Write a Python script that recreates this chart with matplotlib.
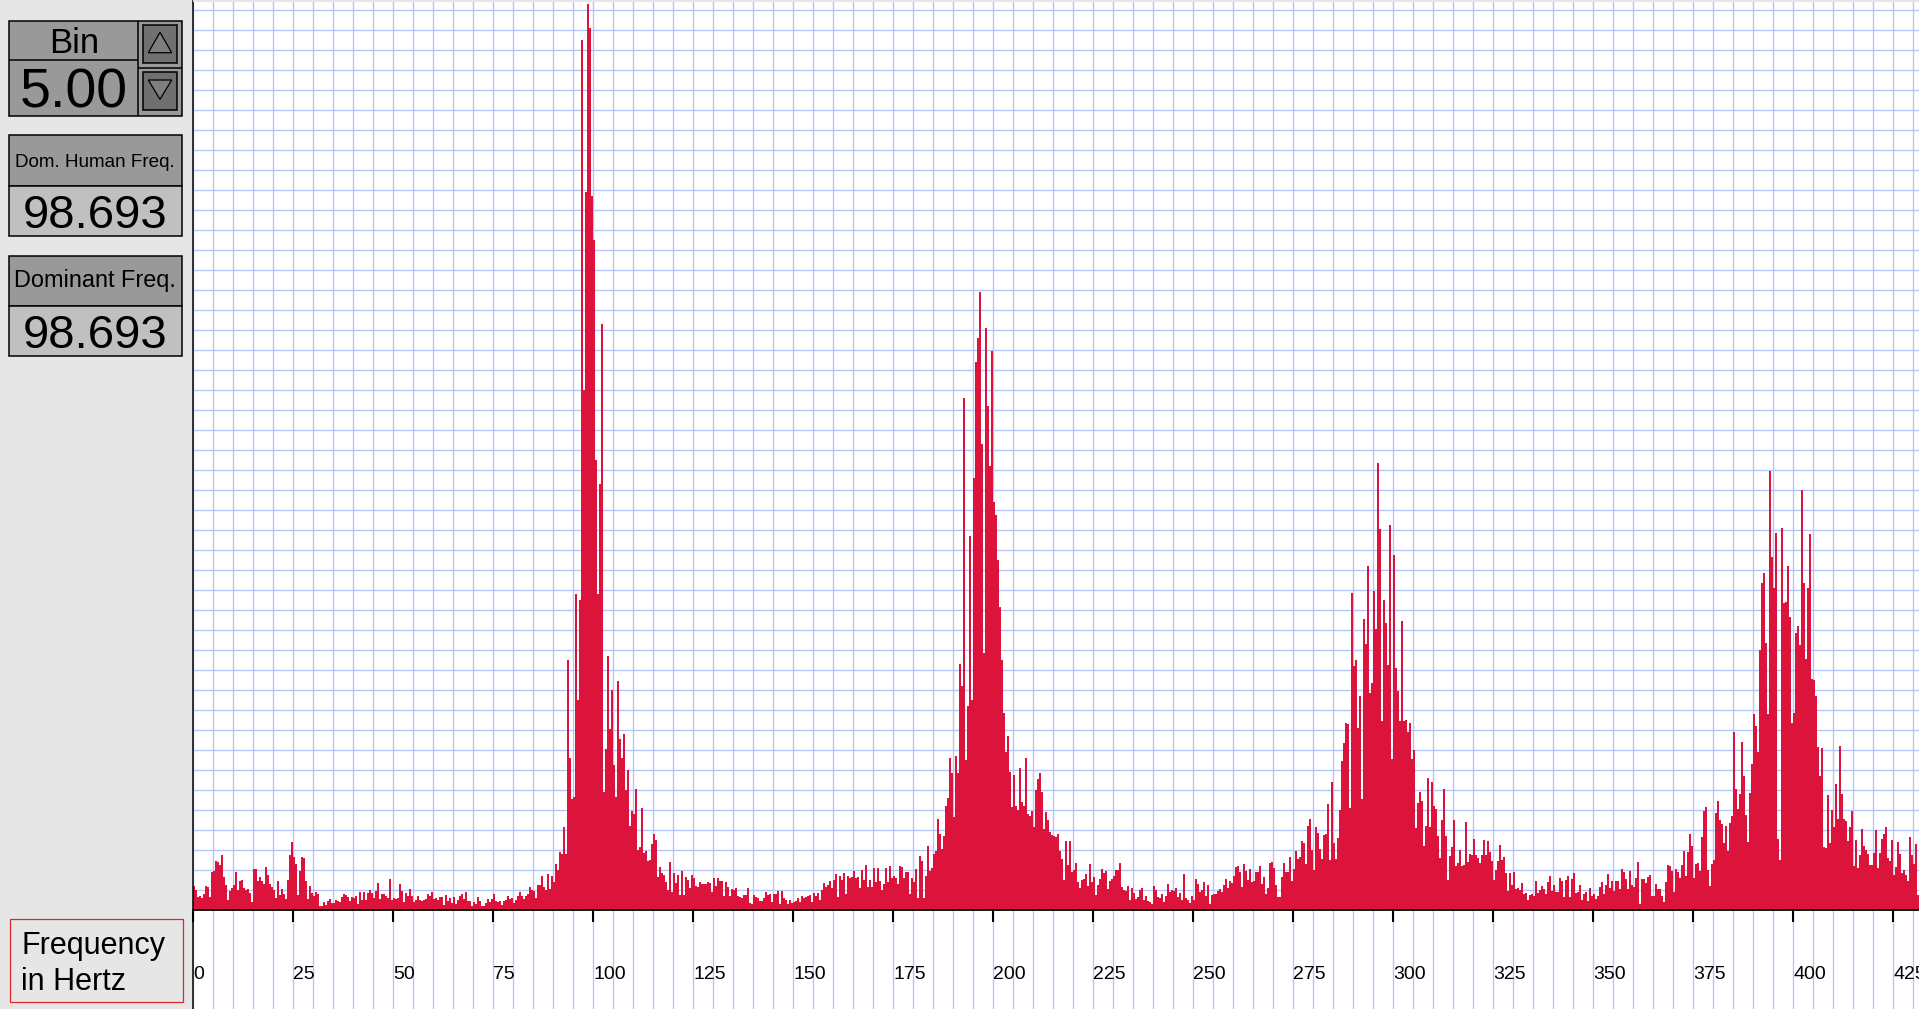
import numpy as np
import matplotlib
matplotlib.use("Agg")
import matplotlib.pyplot as plt
from matplotlib.patches import Rectangle, Polygon

plt.rcParams['font.family'] = ['Liberation Sans', 'DejaVu Sans']

# ---------------- data (amplitude in grid cells, 0.5 Hz bins) ----------------
BIN_HZ = 0.5
FREQ_MAX = 431.5
band_starts = [0, 50, 87, 125, 170, 225, 265, 320, 365]

amp_000_050 = [1.2, 1.0, 0.67, 0.7, 0.6, 0.8, 1.2, 1.15, 0.67, 1.9,
               1.95, 2.45, 2.4, 2.25, 2.75, 1.65, 1.25, 0.5, 0.95, 1.1,
               1.25, 1.9, 1.0, 1.45, 1.5, 1.1, 1.0, 1.05, 0.85, 0.4,
               2.05, 2.05, 1.45, 1.65, 1.45, 1.3, 2.15, 1.75, 1.3, 1.15,
               1.0, 0.6, 1.45, 0.75, 1.05, 0.8, 0.55, 1.5, 2.75, 3.4,
               2.65, 2.3, 0.75, 1.95, 2.65, 2.6, 1.45, 0.55, 1.2, 0.85,
               0.7, 0.9, 0.8, 0.2, 0.2, 0.4, 0.25, 0.45, 0.55, 0.35,
               0.35, 0.5, 0.45, 0.4, 0.65, 0.8, 0.75, 0.65, 0.45, 0.65,
               0.6, 0.7, 0.3, 0.9, 0.5, 0.9, 0.5, 0.85, 1.0, 0.85,
               0.6, 0.95, 1.35, 0.55, 0.8, 0.8, 0.7, 0.6, 1.55, 0.5]

amp_050_087 = [0.6, 0.55, 0.6, 1.3, 0.95, 0.4, 0.85, 0.7, 1.05, 0.7,
               0.4, 0.5, 0.7, 0.5, 0.45, 0.5, 0.55, 0.8, 0.7, 0.9,
               0.55, 0.6, 0.5, 0.65, 0.65, 0.25, 0.75, 0.45, 0.6, 0.35,
               0.65, 0.3, 0.5, 0.7, 0.8, 0.55, 0.9, 0.45, 0.45, 0.2,
               0.4, 0.3, 0.65, 0.45, 0.2, 0.2, 0.35, 0.55, 0.4, 0.55,
               0.8, 0.45, 0.4, 0.45, 0.25, 0.45, 0.5, 0.7, 0.55, 0.6,
               0.35, 0.5, 0.7, 0.9, 0.7, 0.55, 0.7, 0.8, 1.15, 1.0,
               0.95, 0.6, 1.25, 1.25]

amp_087_125 = [1.7, 1.15, 1.0, 1.8, 1.05, 1.7, 1.4, 2.3, 2.0, 2.9,
               2.8, 4.15, 2.8, 12.5, 7.6, 5.55, 5.65, 15.8, 10.5, 15.5,
               43.5, 26.0, 35.9, 45.3, 44.1, 35.7, 33.5, 22.5, 15.8, 21.3,
               29.3, 5.9, 8.05, 12.7, 9.05, 11.0, 7.25, 5.65, 11.45, 8.55,
               7.6, 8.8, 6.0, 7.0, 4.2, 4.95, 4.8, 6.05, 3.0, 3.15,
               5.1, 2.85, 2.95, 2.45, 2.5, 3.3, 3.8, 3.5, 1.65, 2.15,
               1.85, 1.75, 1.4, 1.0, 2.4, 0.9, 1.85, 1.35, 1.75, 0.75,
               1.95, 0.75, 1.65, 1.5, 1.1, 1.75]

amp_125_170 = [1.6, 1.2, 1.15, 1.4, 1.3, 1.3, 1.3, 1.4, 1.35, 0.9,
               1.6, 1.2, 1.6, 1.45, 1.45, 0.7, 1.4, 1.15, 0.7, 1.05,
               1.0, 1.1, 0.7, 0.65, 0.6, 0.75, 0.75, 1.1, 0.35, 0.3,
               0.75, 0.65, 0.6, 0.45, 0.45, 0.6, 0.9, 0.75, 0.8, 0.4,
               0.8, 0.8, 0.95, 0.3, 0.95, 0.6, 0.5, 0.3, 0.5, 0.35,
               0.4, 0.45, 0.6, 0.4, 0.7, 0.6, 0.65, 0.7, 0.75, 0.4,
               0.85, 0.7, 0.85, 0.5, 1.0, 1.35, 1.15, 1.25, 1.45, 1.1,
               1.5, 1.8, 0.65, 1.7, 1.5, 1.85, 0.8, 1.7, 1.6, 1.65,
               1.95, 1.6, 1.65, 1.1, 2.0, 1.5, 2.25, 1.15, 1.5, 1.15]

amp_170_225 = [2.1, 1.4, 2.1, 1.45, 1.0, 1.3, 2.1, 1.4, 2.2, 1.6,
               1.7, 1.6, 1.3, 2.2, 2.15, 1.6, 1.9, 1.9, 0.8, 1.6,
               1.4, 2.05, 0.6, 2.7, 2.45, 0.6, 1.7, 3.2, 1.95, 2.1,
               2.8, 2.95, 4.55, 3.8, 3.05, 3.7, 5.2, 5.6, 7.6, 6.85,
               4.65, 7.7, 6.85, 12.3, 11.2, 25.6, 7.5, 10.2, 18.7, 10.5,
               21.6, 27.4, 28.6, 30.9, 23.3, 12.85, 29.1, 25.2, 22.2, 27.95,
               20.4, 19.75, 17.5, 15.15, 12.5, 9.85, 7.9, 8.7, 6.9, 5.15,
               6.75, 5.2, 5.0, 7.1, 5.4, 5.2, 7.6, 4.8, 4.7, 4.95,
               4.15, 6.0, 6.55, 6.85, 5.9, 4.05, 4.9, 4.5, 3.9, 3.75,
               3.7, 3.65, 3.8, 2.95, 2.55, 1.5, 3.45, 2.25, 3.45, 1.9,
               2.0, 2.35, 1.4, 1.1, 1.5, 1.55, 1.8, 1.2, 2.3, 1.4]

amp_225_265 = [1.65, 0.75, 1.25, 1.55, 2.05, 1.85, 1.95, 1.05, 1.45, 1.55,
               1.7, 2.0, 2.0, 2.35, 1.15, 1.0, 0.95, 1.2, 0.5, 1.1,
               0.85, 0.55, 0.65, 1.0, 1.1, 0.5, 0.7, 0.45, 0.4, 0.3,
               1.2, 1.0, 0.65, 0.6, 0.8, 0.4, 0.7, 1.3, 0.9, 1.0,
               0.95, 1.1, 0.65, 0.85, 0.5, 1.8, 0.6, 0.5, 0.35, 0.7,
               0.5, 1.55, 1.3, 0.9, 1.0, 1.4, 0.7, 1.25, 0.3, 0.75,
               0.8, 0.8, 0.95, 1.05, 0.9, 1.25, 1.55, 1.1, 1.45, 1.35,
               1.7, 2.15, 2.2, 1.9, 1.15, 2.3, 1.95, 1.5, 2.05, 1.4]

amp_265_320 = [1.45, 1.9, 1.9, 2.2, 1.3, 1.65, 0.8, 1.1, 2.35, 2.4,
               2.1, 1.25, 0.65, 0.65, 1.65, 2.35, 1.9, 1.9, 2.65, 1.45,
               2.05, 2.95, 2.55, 2.65, 3.45, 3.35, 2.3, 4.2, 4.55, 3.0,
               2.0, 4.15, 3.85, 3.05, 2.55, 3.75, 3.8, 5.3, 2.5, 6.4,
               3.35, 2.55, 3.6, 5.0, 7.45, 8.35, 9.35, 9.3, 5.1, 15.85,
               12.2, 12.5, 9.1, 10.7, 5.55, 14.55, 13.3, 17.2, 10.85, 11.35,
               15.95, 14.05, 22.35, 19.05, 9.45, 15.5, 14.35, 12.25, 19.25, 7.55,
               17.75, 12.1, 10.95, 9.45, 14.45, 9.45, 9.5, 8.9, 9.35, 7.55,
               8.0, 4.1, 5.35, 5.9, 5.45, 3.2, 4.2, 6.6, 4.15, 6.4,
               5.2, 5.05, 3.7, 2.6, 4.5, 6.05, 3.7, 1.5, 2.7, 3.15,
               4.5, 2.2, 2.35, 3.0, 2.2, 2.25, 4.4, 2.4, 2.8, 2.75]

amp_320_365 = [3.55, 2.75, 2.6, 2.35, 2.75, 3.5, 2.75, 3.45, 2.9, 2.45,
               1.5, 2.0, 2.45, 3.25, 2.5, 2.65, 1.85, 0.95, 1.85, 1.25,
               1.9, 1.05, 1.1, 1.0, 1.35, 0.8, 0.85, 0.5, 0.75, 0.8,
               0.7, 1.45, 0.85, 1.0, 1.2, 1.05, 0.8, 1.4, 1.7, 0.95,
               1.25, 0.9, 0.9, 1.6, 1.45, 0.65, 1.5, 1.7, 0.65, 1.55,
               1.85, 0.85, 0.9, 1.25, 0.5, 0.8, 0.9, 0.45, 1.1, 0.7,
               0.8, 0.55, 0.7, 1.15, 1.4, 0.8, 1.25, 1.8, 1.1, 1.45,
               0.95, 1.45, 1.45, 1.05, 2.05, 1.9, 1.55, 1.05, 1.95, 1.25,
               1.15, 1.6, 2.4, 0.3, 1.55, 1.55, 1.35, 1.65, 1.75, 0.7]

amp_365_432 = [0.7, 1.3, 1.05, 1.05, 0.7, 0.4, 1.4, 2.25, 2.2, 1.95,
               0.9, 2.05, 1.9, 1.6, 2.25, 2.95, 1.7, 2.9, 3.8, 3.2,
               1.6, 2.3, 2.35, 1.95, 3.65, 4.95, 5.15, 2.0, 1.2, 2.3,
               2.5, 4.85, 5.45, 4.5, 4.3, 3.35, 4.2, 2.95, 4.35, 4.7,
               8.9, 6.05, 5.05, 5.8, 8.4, 6.7, 4.75, 3.4, 5.85, 7.3,
               9.8, 9.2, 7.9, 13.0, 16.35, 16.85, 13.35, 9.8, 21.95, 17.65,
               16.1, 18.85, 3.55, 2.5, 19.1, 15.35, 15.4, 17.2, 14.65, 9.35,
               9.85, 13.85, 14.2, 13.25, 21.0, 16.35, 12.55, 16.1, 18.8, 11.55,
               11.5, 10.7, 8.15, 6.7, 8.1, 3.15, 3.1, 5.75, 3.35, 5.0,
               4.15, 6.3, 4.55, 8.2, 5.8, 4.55, 4.45, 3.45, 4.15, 4.95,
               2.2, 3.5, 2.1, 2.75, 4.05, 3.2, 3.0, 2.8, 2.25, 2.25,
               2.85, 4.0, 2.1, 2.85, 3.55, 3.8, 4.15, 2.6, 2.45, 3.5,
               1.75, 2.15, 3.4, 2.8, 1.85, 2.0, 1.75, 1.45, 3.65, 2.75,
               2.3, 3.3, 0.75]

bands = [amp_000_050, amp_050_087, amp_087_125, amp_125_170, amp_170_225,
         amp_225_265, amp_265_320, amp_320_365, amp_365_432]

tick_hz = list(range(0, 426, 25))
tick_labels = [str(t) for t in tick_hz]

bin_value = "5.00"
dom_human_freq = "98.693"
dominant_freq = "98.693"

# ---------------- style ----------------
BAR = '#dc143c'
GRID = '#b3c5f7'
PANEL = '#e6e6e6'
W, H = 1919, 1009
X0 = 193       # left edge of chart area (px)
BASE = 910     # baseline from top (px)

fig = plt.figure(figsize=(W / 100, H / 100), dpi=100)
fig.patch.set_facecolor(PANEL)

# lower strip under the baseline (grid continues, labels live here)
ax_strip = fig.add_axes([X0 / W, 0, (W - X0) / W, (H - BASE) / H])
ax_strip.set_facecolor('white')
ax_strip.set_xlim(0, FREQ_MAX)
ax_strip.set_ylim(0, 1)
ax_strip.set_xticks(np.arange(0, FREQ_MAX, 5))
ax_strip.set_yticks([])
ax_strip.grid(axis='x', color=GRID, lw=0.95)
ax_strip.tick_params(length=0, labelbottom=False)
for s in ['top', 'right', 'bottom']:
    ax_strip.spines[s].set_visible(False)
ax_strip.spines['left'].set_color('black')
ax_strip.spines['left'].set_linewidth(1.1)

# main chart
ax = fig.add_axes([X0 / W, (H - BASE) / H, (W - X0) / W, BASE / H])
ax.set_zorder(3)
ax.set_facecolor('white')
freqs = np.concatenate([s + BIN_HZ * np.arange(len(b)) for s, b in zip(band_starts, bands)])
amps = np.concatenate([np.asarray(b, float) for b in bands])
ax.bar(freqs, amps, width=BIN_HZ, align='edge', color=BAR, linewidth=0,
       antialiased=False)
ax.set_xlim(0, FREQ_MAX)
ax.set_ylim(0, 45.5)
ax.set_axisbelow(True)
ax.xaxis.remove_overlapping_locs = False
ax.set_xticks(tick_hz)
ax.set_xticklabels(tick_labels)
ax.set_xticks(np.arange(0, FREQ_MAX, 5), minor=True)
ax.set_yticks([])
ax.set_yticks(np.arange(1, 46), minor=True)
ax.grid(which='minor', color=GRID, lw=0.95)
ax.tick_params(which='minor', length=0)
ax.tick_params(axis='x', which='major', direction='out', length=8.6, width=1.5,
               pad=31.5, labelsize=14, colors='black')
for lbl in ax.get_xticklabels():
    lbl.set_ha('left')
for s in ['top', 'right']:
    ax.spines[s].set_visible(False)
ax.spines['left'].set_linewidth(1.1)
ax.spines['bottom'].set_linewidth(1.3)

# thin gray strip at the very top
fig.add_artist(Rectangle((X0 / W, 1 - 2 / H), (W - X0) / W, 2 / H,
                         transform=fig.transFigure, facecolor=PANEL,
                         edgecolor='none', zorder=10))

# ---------------- left control panel ----------------
axp = fig.add_axes([0, 0, X0 / W, 1])
axp.set_xlim(0, X0)
axp.set_ylim(H, 0)
axp.axis('off')


def box(x0, y0, x1, y1, fc, ec='black', lw=1.1):
    axp.add_patch(Rectangle((x0, y0), x1 - x0, y1 - y0, facecolor=fc,
                            edgecolor=ec, lw=lw))


def hline(y, x0, x1):
    axp.plot([x0, x1], [y, y], color='black', lw=1.1, solid_capstyle='butt')


def vline(x, y0, y1):
    axp.plot([x, x], [y0, y1], color='black', lw=1.1, solid_capstyle='butt')


# Bin box
box(9.3, 20.7, 181.7, 116.3, '#999999')
hline(60, 9.3, 138.3)
vline(138.3, 20.7, 116.3)
hline(68.3, 138.3, 181.7)
box(143.3, 25.3, 176.7, 63.3, '#707070')
box(143.3, 72.3, 176.7, 110.3, '#707070')
axp.add_patch(Polygon([[160, 32.3], [148.3, 52.7], [171.7, 52.7]], closed=True,
                      facecolor='#7e7e7e', edgecolor='black', lw=0.9))
axp.add_patch(Polygon([[148.3, 80], [171.7, 80], [160, 99.3]], closed=True,
                      facecolor='#7e7e7e', edgecolor='black', lw=0.9))
axp.text(73.8, 53.3, "Bin", ha='center', va='baseline', fontsize=25)
axp.text(73.8, 107.3, bin_value, ha='center', va='baseline', fontsize=40)

# Dom. Human Freq.
box(9.3, 135.3, 181.7, 186.3, '#999999')
box(9.3, 186.3, 181.7, 236.3, '#c0c0c0')
axp.text(95.3, 166.7, "Dom. Human Freq.", ha='center', va='baseline', fontsize=13.6)
axp.text(95.3, 228.3, dom_human_freq, ha='center', va='baseline', fontsize=34)

# Dominant Freq.
box(9.3, 256.3, 181.7, 306.3, '#999999')
box(9.3, 306.3, 181.7, 356.3, '#c0c0c0')
axp.text(95.3, 287.3, "Dominant Freq.", ha='center', va='baseline', fontsize=16.9)
axp.text(95.3, 348.3, dominant_freq, ha='center', va='baseline', fontsize=34)

# axis title box
box(10, 918.5, 182.5, 1001.5, PANEL, ec='#e02828', lw=0.9)
axp.text(21.4, 954, "Frequency", ha='left', va='baseline', fontsize=22)
axp.text(21.4, 990, "in Hertz", ha='left', va='baseline', fontsize=22)

fig.savefig('out.png', dpi=100, facecolor=fig.get_facecolor())
